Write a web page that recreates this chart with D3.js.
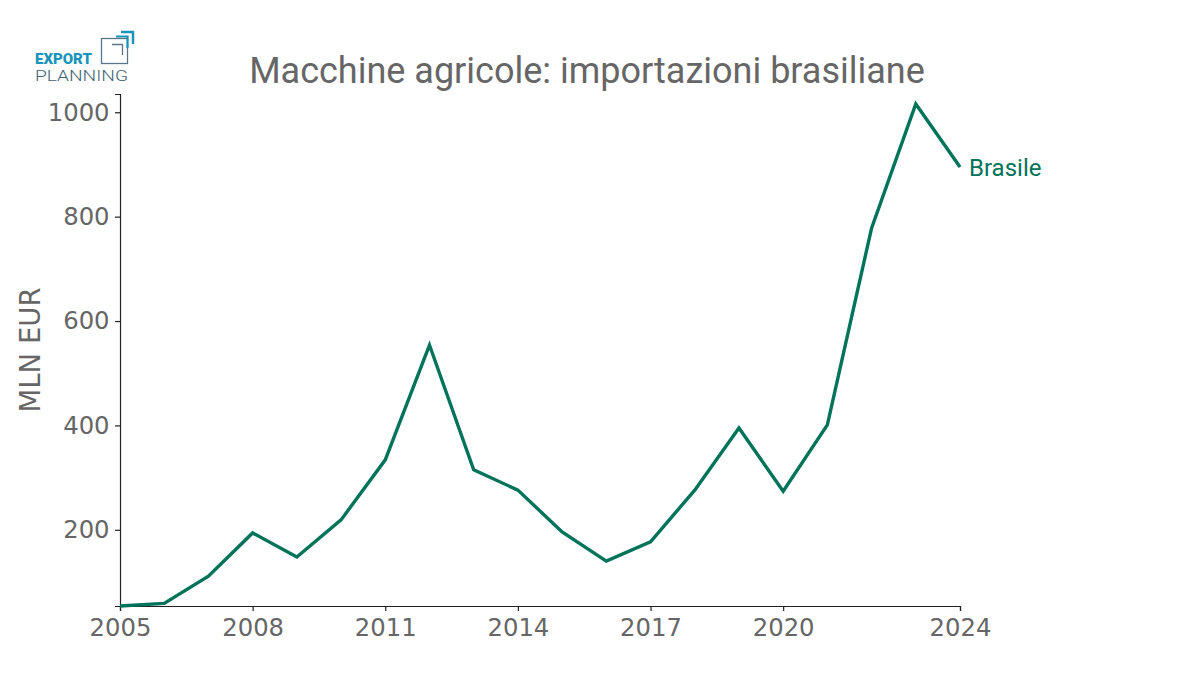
<!DOCTYPE html>
<html><head><meta charset="utf-8">
<script src="https://cdn.jsdelivr.net/npm/d3@7"></script>
<style>body{margin:0;background:#fff;}svg{display:block;}</style>
</head><body>
<svg id="c" width="1200" height="700"></svg>
<script>
const years = [2005,2006,2007,2008,2009,2010,2011,2012,2013,2014,2015,2016,2017,2018,2019,2020,2021,2022,2023,2024];
const values = [54,59,111,194,148,219,334,554,315,276,196,140,177,276,395,274,401,778,1016,895];
const xTicks = [2005,2008,2011,2014,2017,2020,2024];
const yTicks = [200,400,600,800,1000];
const seriesName = "Brasile";
const title = "Macchine agricole: importazioni brasiliane";
const yLabel = "MLN EUR";

const svg = d3.select("#c");
const x = d3.scaleLinear().domain([2005,2024]).range([120,960]);
const y = d3.scaleLinear().domain([54,1035]).range([606,94]);
const grey = "#666666";
const green = "#00735a";

// title
svg.append("text").attr("x",587).attr("y",83).attr("text-anchor","middle")
  .attr("font-family","Roboto").attr("font-size",36).attr("fill",grey).text(title);

// axes
const ax = svg.append("g").attr("transform","translate(0,606)")
  .call(d3.axisBottom(x).tickValues(xTicks).tickFormat(d3.format("d")).tickSize(5).tickSizeOuter(5));
const ay = svg.append("g").attr("transform","translate(120,0)")
  .call(d3.axisLeft(y).tickValues(yTicks).tickFormat(d3.format("d")).tickSize(5).tickSizeOuter(5));
[ax,ay].forEach(g=>{
  g.selectAll("path,line").attr("stroke","#222").attr("stroke-width",1.2);
  g.selectAll("text").attr("font-family","DejaVu Sans").attr("font-size",24.3).attr("fill",grey);
});
ax.selectAll("text").attr("dy","0.92em");
ay.selectAll("text").attr("dx","-0.1em");

svg.append("text").attr("transform","translate(40,350) rotate(-90)").attr("text-anchor","middle")
  .attr("font-family","DejaVu Sans").attr("font-size",27.5).attr("fill",grey).text(yLabel);

// line
const line = d3.line().x((d,i)=>x(years[i])).y(d=>y(d));
svg.append("path").datum(values).attr("d",line).attr("fill","none")
  .attr("stroke",green).attr("stroke-width",3.4).attr("stroke-linejoin","miter");
svg.append("text").attr("x",x(2024)+9).attr("y",y(values[values.length-1])+9)
  .attr("font-family","Roboto").attr("font-size",24).attr("fill",green).text(seriesName);

// logo
const logo = svg.append("g");
logo.append("text").attr("x",35).attr("y",64).attr("font-family","Roboto").attr("font-weight",900)
  .attr("font-size",14).attr("fill","#1994bb").attr("textLength",57).attr("lengthAdjust","spacingAndGlyphs").text("EXPORT");
logo.append("text").attr("x",35).attr("y",81).attr("font-family","Roboto").attr("font-weight",300)
  .attr("font-size",15.5).attr("fill","#3f6272").attr("textLength",93).attr("lengthAdjust","spacingAndGlyphs").text("PLANNING");
logo.append("rect").attr("x",101.5).attr("y",38.5).attr("width",26).attr("height",25)
  .attr("fill","none").attr("stroke","#5a7888").attr("stroke-width",1.3);
logo.append("path").attr("d","M112,44.5 H122.5 V55").attr("fill","none").attr("stroke","#5a7888").attr("stroke-width",1.3);
logo.append("path").attr("d","M116,36.5 H127.5 V48").attr("fill","none").attr("stroke","#1994bb").attr("stroke-width",2.2);
logo.append("path").attr("d","M121,32 H133 V44").attr("fill","none").attr("stroke","#1994bb").attr("stroke-width",2.5);
</script>
</body></html>
